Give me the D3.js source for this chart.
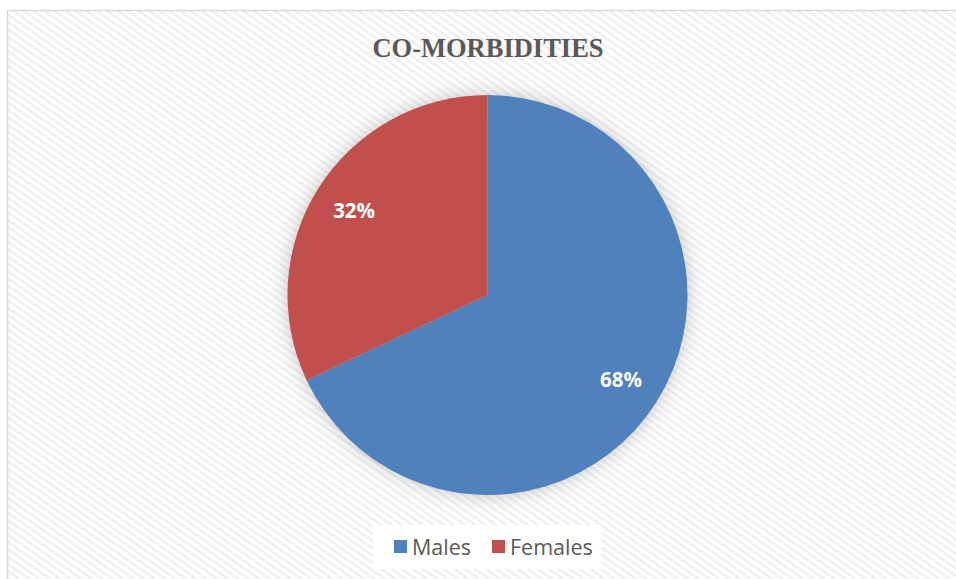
<!DOCTYPE html>
<html><head><meta charset="utf-8">
<script src="https://cdn.jsdelivr.net/npm/d3@7"></script>
<style>html,body{margin:0;padding:0;background:#fff;}svg{display:block;}</style>
</head><body>
<script>
const categories = ["Males", "Females"];
const values = [68, 32];
const colors = ["#4F81BD", "#C0504D"];
const title = "CO-MORBIDITIES";

const W = 956, H = 579;
const svg = d3.select("body").append("svg").attr("width", W).attr("height", H);
const defs = svg.append("defs");

const pat = defs.append("pattern").attr("id","stripes").attr("patternUnits","userSpaceOnUse")
  .attr("width",6).attr("height",6).attr("patternTransform","rotate(35)");
pat.append("rect").attr("width",6).attr("height",6).attr("fill","#ffffff");
pat.append("rect").attr("width",6).attr("height",3).attr("fill","#f1f1f1");

const glow = defs.append("filter").attr("id","glow").attr("x","-30%").attr("y","-30%").attr("width","160%").attr("height","160%");
glow.append("feGaussianBlur").attr("in","SourceAlpha").attr("stdDeviation",9).attr("result","b");
glow.append("feFlood").attr("flood-color","#000").attr("flood-opacity",0.22);
glow.append("feComposite").attr("in2","b").attr("operator","in").attr("result","s");
const m = glow.append("feMerge");
m.append("feMergeNode").attr("in","s");
m.append("feMergeNode").attr("in","SourceGraphic");

svg.append("rect").attr("x",7.5).attr("y",10.5).attr("width",W).attr("height",H)
  .attr("fill","url(#stripes)").attr("stroke","#d9d9d9").attr("stroke-width",1.5);

svg.append("text").attr("x",488).attr("y",57).attr("text-anchor","middle")
  .attr("font-family","'Liberation Serif','Times New Roman',serif").attr("font-weight","bold")
  .attr("font-size",26.5).attr("fill","#595959").text(title);

const cx = 487.5, cy = 295, r = 200;
const pie = d3.pie().sort(null).value(d => d)(values);
const arc = d3.arc().innerRadius(0).outerRadius(r);
const g = svg.append("g").attr("transform",`translate(${cx},${cy})`);
const sl = g.append("g").attr("filter","url(#glow)");
sl.selectAll("path").data(pie).join("path").attr("d",arc).attr("fill",(d,i)=>colors[i]);

const labelArc = d3.arc().innerRadius(r*0.79).outerRadius(r*0.79);
g.selectAll("text.lbl").data(pie).join("text").attr("class","lbl")
  .attr("transform", d => `translate(${labelArc.centroid(d)})`)
  .attr("text-anchor","middle").attr("dy","0.36em")
  .attr("font-family","'Open Sans','Noto Sans',sans-serif").attr("font-weight","bold")
  .attr("font-size",20.5).attr("fill","#fff").text(d => d.value + "%");

svg.append("rect").attr("x",373).attr("y",525).attr("width",228).attr("height",44).attr("fill","#fff");
const items = [{x:394, tx:412}, {x:492, tx:510}];
items.forEach((it,i)=>{
  svg.append("rect").attr("x",it.x).attr("y",540).attr("width",13).attr("height",13).attr("fill",colors[i]);
  svg.append("text").attr("x",it.tx).attr("y",554.5).attr("font-family","'Open Sans','Noto Sans',sans-serif")
    .attr("font-size",21.5).attr("fill","#595959").text(categories[i]);
});
</script>
</body></html>
